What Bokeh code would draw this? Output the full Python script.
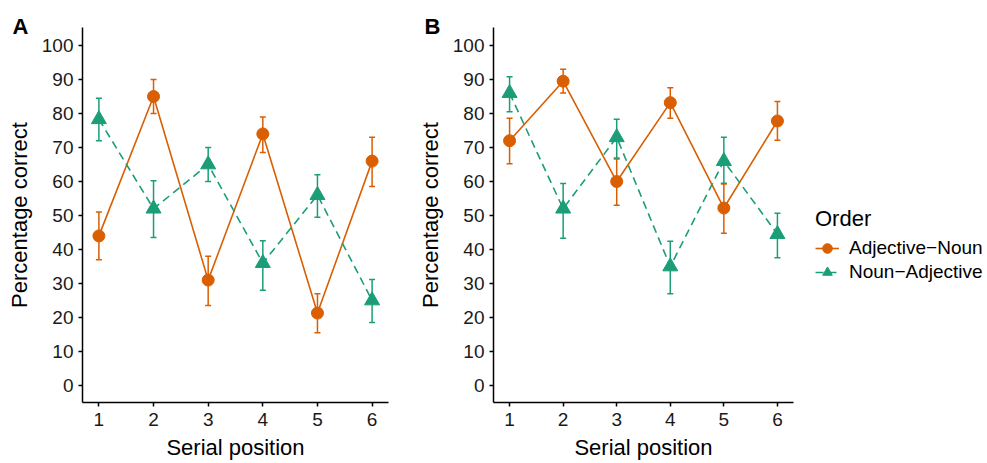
from bokeh.plotting import figure
from bokeh.layouts import row
from bokeh.models import (Range1d, FixedTicker, Whisker, TeeHead, ColumnDataSource,
                          Legend, LegendItem)
from bokeh.embed import file_html
from bokeh.resources import INLINE

# ---------------- data ----------------
positions = [1, 2, 3, 4, 5, 6]
y_ticks = [0, 10, 20, 30, 40, 50, 60, 70, 80, 90, 100]
order_labels = ["Adjective\u2212Noun", "Noun\u2212Adjective"]

# Panel A
a_adjnoun = [44, 85, 31, 74, 21.3, 66]
a_adjnoun_lo = [37, 80, 23.5, 68.5, 15.5, 58.5]
a_adjnoun_hi = [51, 90, 38, 79, 27, 73]
a_nounadj = [78.3, 52, 65, 36, 56, 25]
a_nounadj_lo = [72, 43.5, 60, 28, 49.5, 18.5]
a_nounadj_hi = [84.5, 60.2, 70, 42.6, 62, 31.2]

# Panel B
b_adjnoun = [72, 89.5, 60, 83.2, 52.2, 77.8]
b_adjnoun_lo = [65.2, 86, 53, 78.6, 44.8, 72.1]
b_adjnoun_hi = [78.6, 93, 66.6, 87.6, 59.3, 83.5]
b_nounadj = [86, 52, 73, 35, 66, 44.5]
b_nounadj_lo = [80.5, 43.3, 66.9, 27, 59.5, 37.6]
b_nounadj_hi = [90.8, 59.4, 78.3, 42.4, 73, 50.7]

ORANGE = "#D95F02"
GREEN = "#1B9E77"
FONT = "Liberation Sans"
H = 463


def add_series(p, src_an, src_na):
    l_an = p.line("x", "y", source=src_an, line_color=ORANGE, line_width=1.6)
    l_na = p.line("x", "y", source=src_na, line_color=GREEN, line_width=1.6, line_dash="8 5")
    s_an = p.scatter("x", "y", source=src_an, marker="circle", size=12,
                     fill_color=ORANGE, line_color=ORANGE)
    s_na = p.scatter("x", "y", source=src_na, marker="triangle", size=15,
                     fill_color=GREEN, line_color=GREEN)
    return l_an, s_an, l_na, s_na


def make_panel(letter, letter_offset, an, an_lo, an_hi, na, na_lo, na_hi,
               width, left, right):
    p = figure(width=width, height=H, x_range=Range1d(0.7, 6.3), y_range=Range1d(-5, 105.3),
               output_backend="svg", toolbar_location=None,
               min_border_left=left, min_border_right=right,
               min_border_top=27, min_border_bottom=H - 27 - 375)
    p.grid.visible = False
    p.outline_line_color = None
    p.background_fill_color = "white"
    p.border_fill_color = "white"

    # panel letter as title
    p.title.text = letter
    p.title.text_font = FONT
    p.title.text_font_size = "22px"
    p.title.text_font_style = "bold"
    p.title.text_color = "black"
    p.title.align = "left"
    p.title.offset = letter_offset
    p.title.standoff = -22

    p.xaxis.ticker = FixedTicker(ticks=positions)
    p.yaxis.ticker = FixedTicker(ticks=y_ticks)
    p.xaxis.axis_label = "Serial position"
    p.yaxis.axis_label = "Percentage correct"
    for ax in (p.xaxis, p.yaxis):
        ax.axis_line_color = "black"
        ax.axis_line_width = 1.5
        ax.major_tick_line_color = "black"
        ax.major_tick_line_width = 1.5
        ax.major_tick_out = 4
        ax.major_tick_in = 0
        ax.minor_tick_out = 0
        ax.minor_tick_in = 0
        ax.major_label_text_font = FONT
        ax.major_label_text_font_size = "19px"
        ax.major_label_text_color = "#1a1a1a"
        ax.axis_label_text_font = FONT
        ax.axis_label_text_font_size = "22px"
        ax.axis_label_text_font_style = "normal"
        ax.axis_label_text_color = "black"
    p.xaxis.major_label_standoff = 6
    p.xaxis.axis_label_standoff = 6
    p.yaxis.major_label_standoff = 5
    p.yaxis.axis_label_standoff = 7

    src_an = ColumnDataSource(dict(x=positions, y=an, lo=an_lo, hi=an_hi))
    src_na = ColumnDataSource(dict(x=positions, y=na, lo=na_lo, hi=na_hi))

    # error bars
    for src, col in ((src_an, ORANGE), (src_na, GREEN)):
        w = Whisker(base="x", upper="hi", lower="lo", source=src,
                    line_color=col, line_width=1.5,
                    upper_head=TeeHead(size=6, line_color=col, line_width=1.5),
                    lower_head=TeeHead(size=6, line_color=col, line_width=1.5))
        p.add_layout(w)

    add_series(p, src_an, src_na)
    return p, src_an, src_na


pa, _, _ = make_panel("A", -70, a_adjnoun, a_adjnoun_lo, a_adjnoun_hi,
                      a_nounadj, a_nounadj_lo, a_nounadj_hi, width=414, left=82, right=26)
pb, srcb_an, srcb_na = make_panel("B", -69, b_adjnoun, b_adjnoun_lo, b_adjnoun_hi,
                                  b_nounadj, b_nounadj_lo, b_nounadj_hi,
                                  width=389, left=73, right=10)

# ---------------- legend panel (its data range is out of view; only the legend shows) ----
pl = figure(width=184, height=H, x_range=Range1d(100, 101), y_range=Range1d(1000, 1001),
            output_backend="svg", toolbar_location=None,
            x_axis_location=None, y_axis_location=None,
            min_border_left=0, min_border_right=0, min_border_top=0, min_border_bottom=0)
pl.grid.visible = False
pl.outline_line_color = None
pl.background_fill_color = "white"
pl.border_fill_color = "white"
ll_an, ls_an, ll_na, ls_na = add_series(pl, srcb_an, srcb_na)
leg = Legend(items=[LegendItem(label=order_labels[0], renderers=[ll_an, ls_an]),
                    LegendItem(label=order_labels[1], renderers=[ll_na, ls_na])],
             location=(12, 118), title="Order",
             title_text_font=FONT, title_text_font_size="22px",
             title_text_font_style="normal", title_text_color="black",
             label_text_font=FONT, label_text_font_size="19px", label_text_color="black",
             glyph_width=24, glyph_height=24, label_standoff=10, spacing=0,
             padding=0, margin=0, border_line_color=None,
             background_fill_alpha=0, title_standoff=4)
pl.add_layout(leg, "center")

layout = row(pa, pb, pl)
open("out.html", "w").write(file_html(layout, INLINE))
